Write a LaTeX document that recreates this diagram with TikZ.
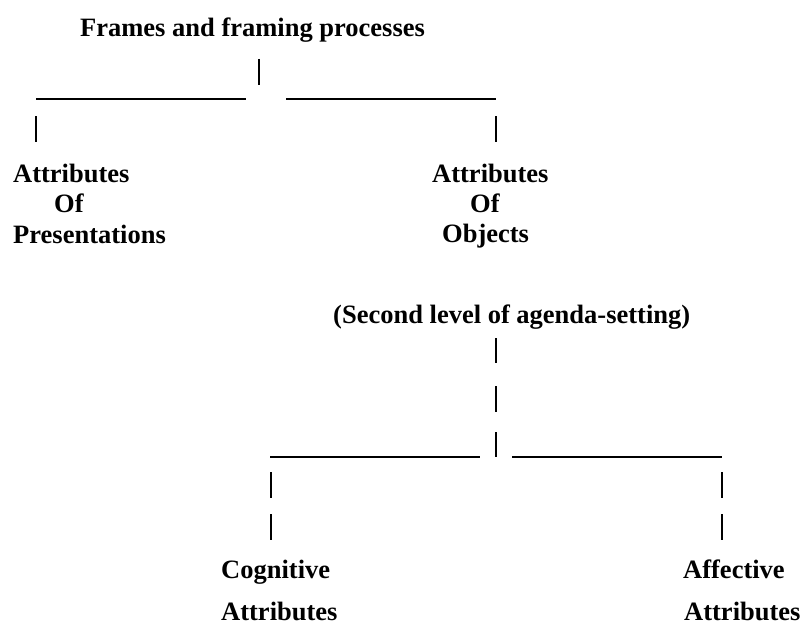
\documentclass[tikz,border=0pt]{standalone}
\usepackage{fontspec}
\setmainfont{Liberation Serif}

\begin{document}
\begin{tikzpicture}[x=1pt,y=-1pt, every node/.style={font=\bfseries\fontsize{26.5}{30}\selectfont,inner sep=0pt,anchor=base west}]
    \tikzset{rule/.style={line width=1.9pt}}
    \tikzset{tick/.style={line width=1.5pt}}
    \useasboundingbox (0,0) rectangle (800,626);

    % Top level (frames)
    \node (frames) at (80,37) {Frames and framing processes};
    \draw[tick] (259,59) -- (259,85);
    \draw[rule] (36,99) -- (246,99);
    \draw[rule] (286,99) -- (496,99);
    \draw[tick] (36,116) -- (36,142);
    \draw[tick] (496,116) -- (496,142);

    % Attributes of presentations / objects
    \node (presA) at (13,182) {Attributes};
    \node (presO) at (54,212) {Of};
    \node (presP) at (13,243) {Presentations};
    \node (objA) at (432,182) {Attributes};
    \node (objO) at (470,212) {Of};
    \node (objP) at (442,242) {Objects};

    % Second level (agenda-setting)
    \node (second) at (333,323) {(Second level of agenda-setting)};
    \foreach \ya/\yb in {338/363,386/412,432/457}
      \draw[tick] (496,\ya) -- (496,\yb);
    \draw[rule] (270,457) -- (480,457);
    \draw[rule] (512,457) -- (722,457);
    \foreach \ya/\yb in {472/498,514/540}{
      \draw[tick] (271,\ya) -- (271,\yb);
      \draw[tick] (722,\ya) -- (722,\yb);
    }

    % Cognitive / affective
    \node (cogC) at (221,578) {Cognitive};
    \node (cogA) at (221,620) {Attributes};
    \node (affC) at (683,578) {Affective};
    \node (affA) at (684,620) {Attributes};
\end{tikzpicture}
\end{document}
